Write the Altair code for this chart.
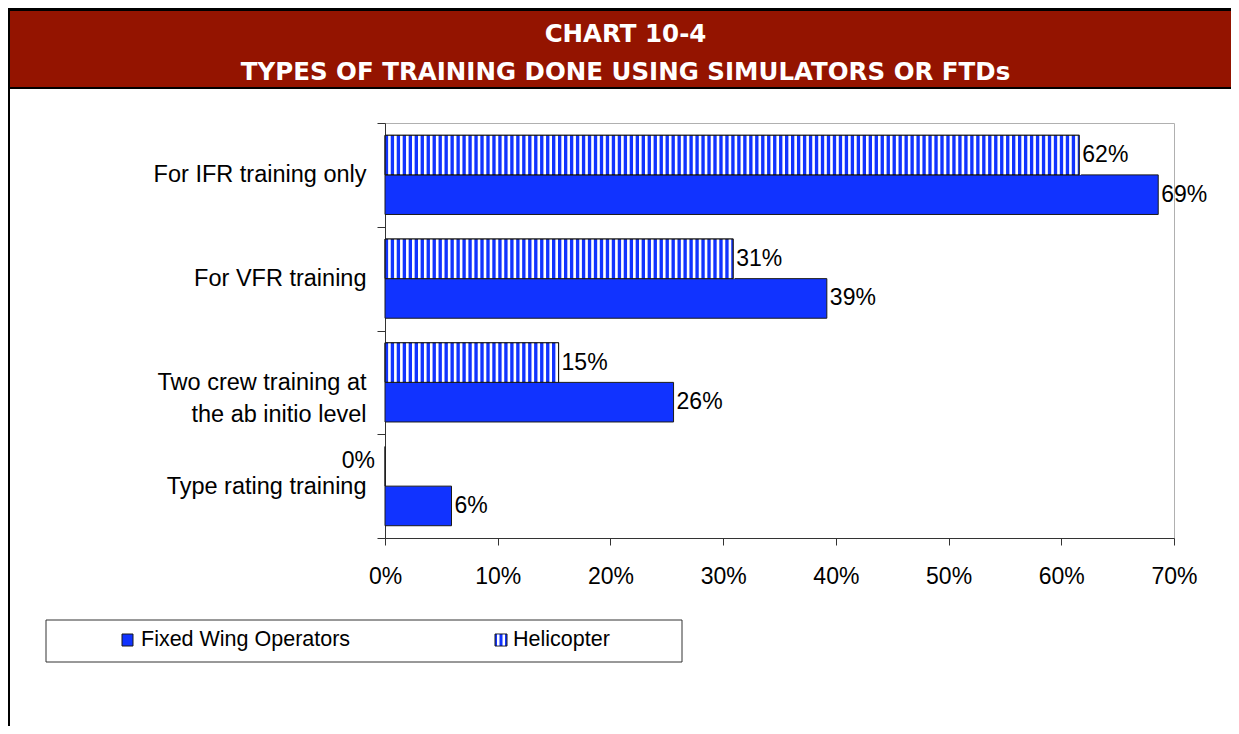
import altair as alt
import pandas as pd
import numpy as np

categories = ["For IFR training only", "For VFR training",
              "Two crew training at\nthe ab initio level", "Type rating training"]
series = ["Fixed Wing Operators", "Helicopter"]
fixed_wing = [68.6, 39.2, 25.6, 5.9]
helicopter = [61.6, 30.9, 15.4, 0.0]
x_ticks = [0, 10, 20, 30, 40, 50, 60, 70]
title_lines = ["CHART 10-4", "TYPES OF TRAINING DONE USING SIMULATORS OR FTDs"]

BLUE = "#1133ff"
FONT = "Liberation Sans"

rows = []
for c, f, h in zip(categories, fixed_wing, helicopter):
    rows.append({"cat": c, "series": series[1], "value": h})
    rows.append({"cat": c, "series": series[0], "value": f})
df = pd.DataFrame(rows)
df["label"] = df["value"].round().astype(int).astype(str) + "%"

# white stripes for the helicopter pattern, derived from the helicopter values
step = 0.53
stripes = []
for c, h in zip(categories, helicopter):
    for x0 in np.arange(0, h - 0.1, step):
        stripes.append({"cat": c, "series": series[1],
                        "x0": x0 + step * 0.52, "x1": min(x0 + step * 0.96, h)})
sdf = pd.DataFrame(stripes)

x_axis = alt.Axis(values=x_ticks, labelExpr="datum.value + '%'", title=None, grid=False,
                  tickSize=7, labelPadding=20, labelFontSize=23, labelFont=FONT,
                  labelColor="black", domainColor="#333", tickColor="#333", labelFlush=False)
y_axis = alt.Axis(title=None, labelExpr="split(datum.label, '\\n')", labelLineHeight=32,
                  labelFontSize=23.5, labelFont=FONT, labelColor="black", tickBand="extent",
                  tickSize=8, labelPadding=11, domainColor="#333", tickColor="#333",
                  labelLimit=400)

x_scale = alt.Scale(domain=[0, 70], nice=False)
y_enc = alt.Y("cat:N", sort=categories,
              scale=alt.Scale(paddingInner=0, paddingOuter=0), axis=y_axis)
yoff_enc = alt.YOffset("series:N", scale=alt.Scale(domain=[series[1], series[0]],
                                                   paddingInner=0, paddingOuter=0.31))

bars = alt.Chart(df).mark_bar(fill=BLUE, stroke="#1a1a1a", strokeWidth=1).encode(
    x=alt.X("value:Q", scale=x_scale, axis=x_axis), y=y_enc, yOffset=yoff_enc)

stripe_layer = alt.Chart(sdf).mark_bar(fill="white", strokeWidth=0).encode(
    x=alt.X("x0:Q", scale=x_scale, axis=x_axis), x2=alt.X2("x1:Q"), y=y_enc, yOffset=yoff_enc)

outline = alt.Chart(df).transform_filter(
    (alt.datum.series == series[1]) & (alt.datum.value > 0)
).mark_bar(fillOpacity=0, stroke="#1a1a1a", strokeWidth=1).encode(
    x=alt.X("value:Q", scale=x_scale, axis=x_axis), y=y_enc, yOffset=yoff_enc)

labels = alt.Chart(df).transform_filter(alt.datum.value > 0).mark_text(
    align="left", baseline="middle", dx=3, fontSize=23, font=FONT, color="black").encode(
    x=alt.X("value:Q", scale=x_scale, axis=x_axis), y=y_enc, yOffset=yoff_enc, text="label:N")

zero_labels = alt.Chart(df).transform_filter(alt.datum.value == 0).mark_text(
    align="right", baseline="middle", dx=-10, dy=-5, fontSize=23, font=FONT, color="black").encode(
    x=alt.X("value:Q", scale=x_scale, axis=x_axis), y=y_enc, yOffset=yoff_enc, text="label:N")

one = pd.DataFrame({"a": [0]})

border = alt.Chart(one).mark_rect(fillOpacity=0, stroke="black", strokeWidth=2).encode(
    x=alt.value(-376), x2=alt.value(900), y=alt.value(-114), y2=alt.value(700))

title_band = alt.Chart(one).mark_rect(fill="#941400", stroke="black", strokeWidth=2).encode(
    x=alt.value(-376), x2=alt.value(900), y=alt.value(-113), y2=alt.value(-35))

t1 = alt.Chart(pd.DataFrame({"t": [title_lines[0]]})).mark_text(
    align="center", baseline="alphabetic", font="DejaVu Sans", fontWeight="bold",
    fontSize=24.5, color="white").encode(x=alt.value(240.5), y=alt.value(-81), text="t:N")
t2 = alt.Chart(pd.DataFrame({"t": [title_lines[1]]})).mark_text(
    align="center", baseline="alphabetic", font="DejaVu Sans", fontWeight="bold",
    fontSize=24.5, color="white").encode(x=alt.value(240.5), y=alt.value(-43), text="t:N")

legend_box = alt.Chart(one).mark_rect(fillOpacity=0, stroke="#333", strokeWidth=1).encode(
    x=alt.value(-339), x2=alt.value(297), y=alt.value(497), y2=alt.value(539))
sw1 = alt.Chart(one).mark_rect(fill=BLUE, stroke="#1a1a1a", strokeWidth=1).encode(
    x=alt.value(-263), x2=alt.value(-252), y=alt.value(511), y2=alt.value(523))
sw2 = alt.Chart(one).mark_rect(fill=BLUE, stroke="#1a1a1a", strokeWidth=1).encode(
    x=alt.value(110), x2=alt.value(122), y=alt.value(511), y2=alt.value(523))
sw2a = alt.Chart(one).mark_rect(fill="white").encode(
    x=alt.value(112), x2=alt.value(114.5), y=alt.value(511.5), y2=alt.value(522.5))
sw2b = alt.Chart(one).mark_rect(fill="white").encode(
    x=alt.value(117.5), x2=alt.value(120), y=alt.value(511.5), y2=alt.value(522.5))
lt1 = alt.Chart(pd.DataFrame({"t": [series[0]]})).mark_text(
    align="left", baseline="middle", fontSize=21.5, font=FONT, color="black").encode(
    x=alt.value(-244), y=alt.value(517), text="t:N")
lt2 = alt.Chart(pd.DataFrame({"t": [series[1]]})).mark_text(
    align="left", baseline="middle", fontSize=21.5, font=FONT, color="black").encode(
    x=alt.value(128), y=alt.value(517), text="t:N")

chart = alt.layer(
    border, title_band, t1, t2,
    bars, stripe_layer, outline, labels, zero_labels,
    legend_box, sw1, sw2, sw2a, sw2b, lt1, lt2,
).properties(
    width=789, height=415,
    padding={"left": 377, "top": 115, "right": 57, "bottom": 188},
    autosize=alt.AutoSizeParams(type="none"),
).configure_view(stroke="#b0b0b0", strokeWidth=1)

chart.save("out.html", embed_options={"renderer": "svg", "actions": False})
